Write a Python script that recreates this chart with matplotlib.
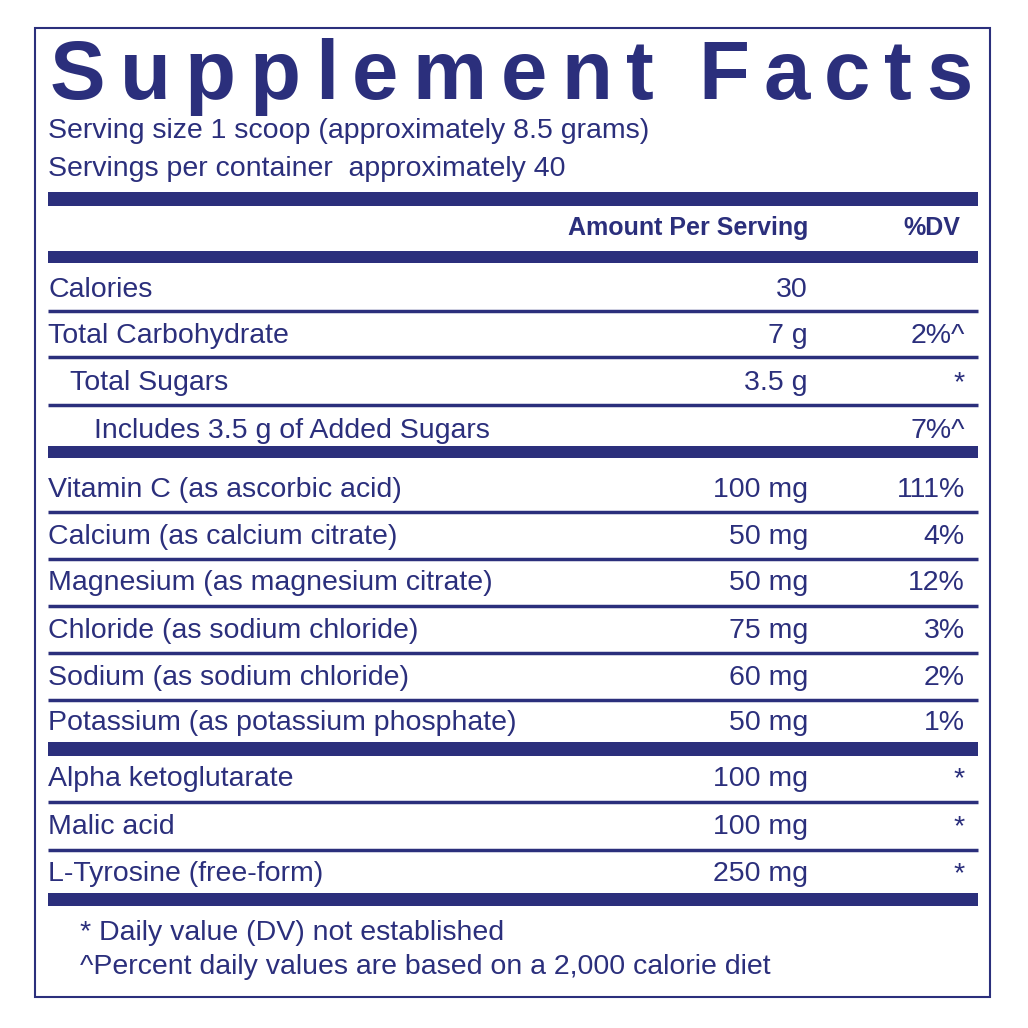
import matplotlib
matplotlib.use("Agg")
import matplotlib.pyplot as plt

C = "#2b2f7c"
title = "Supplement Facts"
serving = ["Serving size 1 scoop (approximately 8.5 grams)", "Servings per container  approximately 40"]
names = ["Calories", "Total Carbohydrate", "Total Sugars", "Includes 3.5 g of Added Sugars",
         "Vitamin C (as ascorbic acid)", "Calcium (as calcium citrate)", "Magnesium (as magnesium citrate)",
         "Chloride (as sodium chloride)", "Sodium (as sodium chloride)", "Potassium (as potassium phosphate)",
         "Alpha ketoglutarate", "Malic acid", "L-Tyrosine (free-form)"]
amounts = ["30", "7 g", "3.5 g", "", "100 mg", "50 mg", "50 mg", "75 mg", "60 mg", "50 mg", "100 mg", "100 mg", "250 mg"]
dvs = ["", "2%^", "*", "7%^", "111%", "4%", "12%", "3%", "2%", "1%", "*", "*", "*"]
indent = [0, 0, 22, 46, 0, 0, 0, 0, 0, 0, 0, 0, 0]
ys = [290, 336, 383, 431, 490, 537, 583, 631, 678, 723, 779, 827, 874]
thin = [311, 357, 405, 512, 559, 606, 653, 700, 802, 850]
thick = [(192, 206), (251, 263), (446, 458), (742, 756), (893, 906)]
foot = ["* Daily value (DV) not established", "^Percent daily values are based on a 2,000 calorie diet"]

fig = plt.figure(figsize=(10.28, 10.28), dpi=100)
ax = fig.add_axes([0, 0, 1, 1])
ax.set_xlim(0, 1028); ax.set_ylim(1028, 0); ax.axis("off")
F = ["Liberation Sans", "DejaVu Sans"]
fs = 20.5
ax.add_patch(plt.Rectangle((35, 28), 955, 969, fill=False, ec=C, lw=1.5))

fig.canvas.draw()
r = fig.canvas.get_renderer()
TS = 60
tmp = [ax.text(0, 0, ch, fontsize=TS, fontweight="bold", family=F) for ch in title]
ws = [t.get_window_extent(r).width if ch != " " else 16 for t, ch in zip(tmp, title)]
for t in tmp: t.remove()
gap = (972 - 50 - sum(ws)) / (len(title) - 1)
x = 50
for ch, w in zip(title, ws):
    ax.text(x, 99, ch, fontsize=TS, fontweight="bold", family=F, color=C, va="baseline")
    x += w + gap

for i, s in enumerate(serving):
    ax.text(48, 131 + 38 * i, s, fontsize=fs, family=F, color=C, va="center")
for y0, y1 in thick:
    ax.add_patch(plt.Rectangle((48, y0), 930, y1 - y0, color=C, lw=0))
for y in thin:
    ax.plot([48, 978], [y, y], color=C, lw=2.5, solid_capstyle="butt")
ax.text(808, 228, "Amount Per Serving", fontsize=18, fontweight="bold", family=F, color=C, ha="right", va="center")
ax.text(960, 228, "%DV", fontsize=18, fontweight="bold", family=F, color=C, ha="right", va="center")
for n, a, d, ind, y in zip(names, amounts, dvs, indent, ys):
    ax.text(48 + ind, y, n, fontsize=fs, family=F, color=C, va="center")
    ax.text(808, y, a, fontsize=fs, family=F, color=C, ha="right", va="center")
    ax.text(965, y, d, fontsize=fs, family=F, color=C, ha="right", va="center")
for i, s in enumerate(foot):
    ax.text(80, 933 + 34 * i, s, fontsize=fs, family=F, color=C, va="center")
fig.savefig("out.png", dpi=100)
